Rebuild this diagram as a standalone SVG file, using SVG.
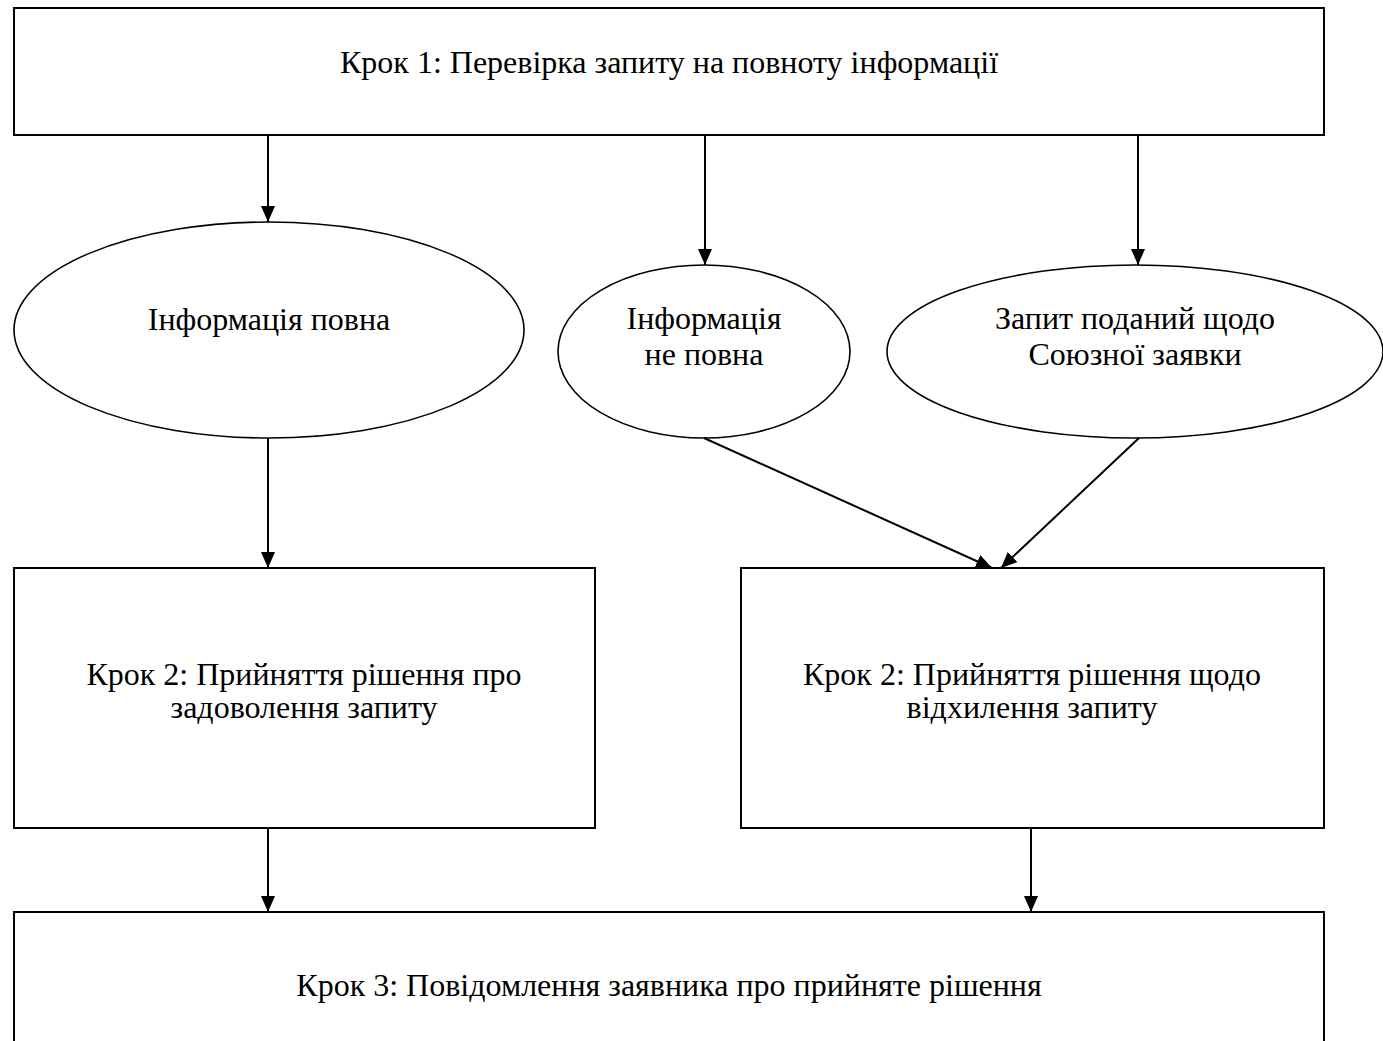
<svg xmlns="http://www.w3.org/2000/svg" width="1383" height="1041" viewBox="0 0 1383 1041">
<style>
.box{fill:#fff;stroke:#000;stroke-width:2}
.ell{fill:#fff;stroke:#000;stroke-width:1.6}
.t{font-family:"Liberation Serif","Times New Roman",serif;font-size:32px;fill:#000;text-anchor:middle}
.c{stroke:#000;stroke-width:2;fill:none;marker-end:url(#ah)}
</style>
<defs>
<marker id="ah" markerWidth="16" markerHeight="14" refX="16" refY="7" orient="auto" markerUnits="userSpaceOnUse">
<path d="M0,0 L16,7 L0,14 Z" fill="#000"/>
</marker>
</defs>
<rect width="1383" height="1041" fill="#fff"/>
<g id="step1"><rect class="box" x="14" y="8" width="1310" height="127"/><text class="t" x="669" y="73">Крок 1: Перевірка запиту на повноту інформації</text></g>
<g id="full"><ellipse class="ell" cx="269" cy="330" rx="255" ry="108"/><text class="t" x="269" y="330">Інформація повна</text></g>
<g id="notfull"><ellipse class="ell" cx="704" cy="351.5" rx="146" ry="86.5"/><text class="t" x="704" y="329">Інформація</text><text class="t" x="704" y="365">не повна</text></g>
<g id="union"><ellipse class="ell" cx="1135" cy="351.5" rx="248" ry="86.5"/><text class="t" x="1135" y="329">Запит поданий щодо</text><text class="t" x="1135" y="365">Союзної заявки</text></g>
<g id="step2a"><rect class="box" x="14" y="568" width="581" height="260"/><text class="t" x="304" y="685">Крок 2: Прийняття рішення про</text><text class="t" x="304" y="718">задоволення запиту</text></g>
<g id="step2b"><rect class="box" x="741" y="568" width="583" height="260"/><text class="t" x="1032" y="685">Крок 2: Прийняття рішення щодо</text><text class="t" x="1032" y="718">відхилення запиту</text></g>
<g id="step3"><rect class="box" x="14" y="912" width="1310" height="140"/><text class="t" x="669" y="996">Крок 3: Повідомлення заявника про прийняте рішення</text></g>
<g id="connectors">
<line class="c" x1="268" y1="135" x2="268" y2="222"/>
<line class="c" x1="705" y1="135" x2="705" y2="265"/>
<line class="c" x1="1138" y1="135" x2="1138" y2="265"/>
<line class="c" x1="268" y1="438" x2="268" y2="568"/>
<line class="c" x1="704" y1="438" x2="992" y2="568"/>
<line class="c" x1="1139" y1="438" x2="1001" y2="568"/>
<line class="c" x1="268" y1="828" x2="268" y2="912"/>
<line class="c" x1="1031" y1="828" x2="1031" y2="912"/>
</g>
</svg>
